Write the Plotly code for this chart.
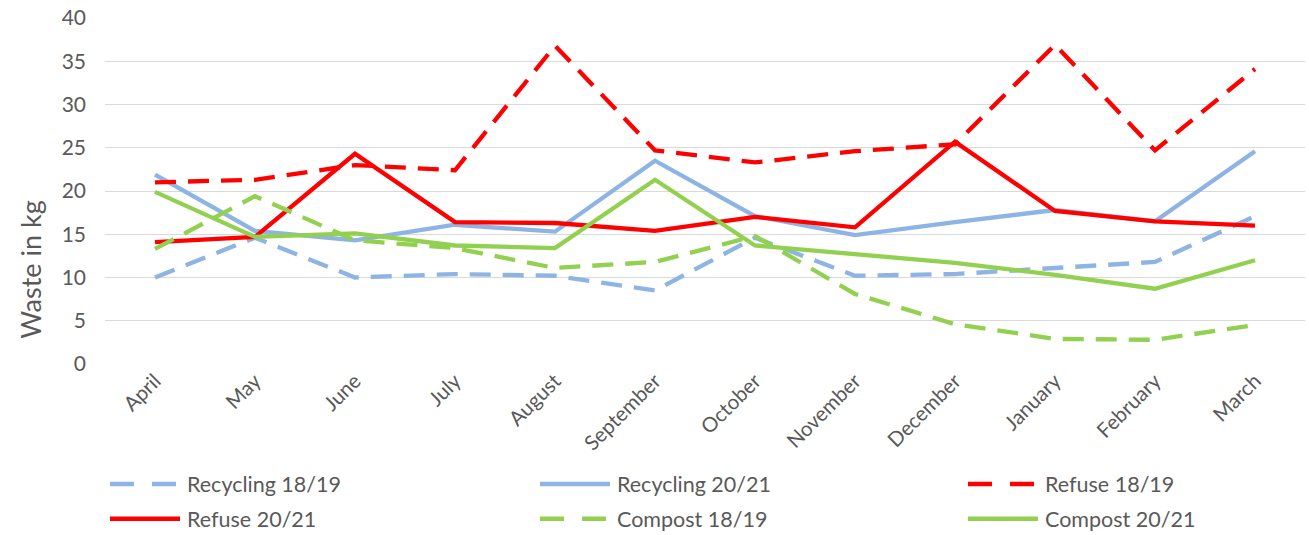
import plotly.graph_objects as go

months = ["April", "May", "June", "July", "August", "September", "October",
          "November", "December", "January", "February", "March"]

recycling_1819 = [10.0, 14.6, 10.0, 10.4, 10.2, 8.5, 14.6, 10.2, 10.4, 11.1, 11.8, 17.1]
recycling_2021 = [21.9, 15.4, 14.3, 16.1, 15.3, 23.5, 17.1, 14.9, 16.4, 17.8, 16.5, 24.6]
refuse_1819 = [21.0, 21.3, 23.0, 22.4, 36.8, 24.7, 23.3, 24.6, 25.4, 36.9, 24.7, 34.1]
refuse_2021 = [14.1, 14.7, 24.3, 16.4, 16.3, 15.4, 17.0, 15.8, 25.7, 17.7, 16.5, 16.0]
compost_1819 = [13.3, 19.4, 14.3, 13.4, 11.1, 11.8, 14.8, 8.1, 4.6, 2.9, 2.8, 4.5]
compost_2021 = [19.9, 14.7, 15.1, 13.7, 13.4, 21.3, 13.7, 12.7, 11.7, 10.3, 8.7, 12.0]

series_names = ["Recycling 18/19", "Recycling 20/21", "Refuse 18/19",
                "Refuse 20/21", "Compost 18/19", "Compost 20/21"]
series_values = [recycling_1819, recycling_2021, refuse_1819,
                 refuse_2021, compost_1819, compost_2021]

BLUE = "#8EB4E3"
RED = "#FF0000"
GREEN = "#92D050"
colors = [BLUE, BLUE, RED, RED, GREEN, GREEN]
DASH = "21px,12px"
dashes = [DASH, "solid", DASH, "solid", DASH, "solid"]

TEXT = "#595959"
FONT = "Lato"

fig = go.Figure()
for name, vals, c, d in zip(series_names, series_values, colors, dashes):
    fig.add_trace(go.Scatter(
        x=months, y=vals, name=name, mode="lines",
        line=dict(color=c, width=4.3, dash=d),
        showlegend=False,
    ))

W, H = 1309, 535
ML, MR, MT, MB = 105, 4, 15, 171
pw = W - ML - MR
ph = H - MT - MB

def px_x(x):
    return (x - ML) / pw

def px_y(y):
    return (H - MB - y) / ph

# manual legend (3 columns x 2 rows), mimicking the long legend swatches
col_x = [110, 540, 968]
row_y = [485, 520]
shapes = []
annotations = []
for i, (name, c, d) in enumerate(zip(series_names, colors, dashes)):
    cx = col_x[i % 3]
    ry = row_y[i // 3]
    shapes.append(dict(
        type="line", xref="paper", yref="paper",
        x0=px_x(cx), x1=px_x(cx + 70), y0=px_y(ry), y1=px_y(ry),
        line=dict(color=c, width=4.5, dash=("24px,18px" if d != "solid" else "solid")),
    ))
    annotations.append(dict(
        xref="paper", yref="paper", x=px_x(cx + 75), y=px_y(ry),
        xanchor="left", yanchor="middle", showarrow=False,
        text=name, font=dict(family=FONT, size=21.5, color=TEXT),
    ))

# y-axis title (positioned as in the reference, below the plot-area centre)
annotations.append(dict(
    xref="paper", yref="paper", x=px_x(31), y=px_y(269),
    xanchor="center", yanchor="middle", showarrow=False, textangle=-90,
    text="Waste in kg", font=dict(family=FONT, size=27, color=TEXT),
))

fig.update_layout(
    width=W, height=H,
    margin=dict(l=ML, r=MR, t=MT, b=MB),
    paper_bgcolor="white", plot_bgcolor="white",
    font=dict(family=FONT, color=TEXT),
    showlegend=False,
    shapes=shapes,
    annotations=annotations,
    xaxis=dict(
        type="category", range=[-0.5, 11.5],
        tickangle=-45, tickfont=dict(family=FONT, size=20.5, color=TEXT),
        showgrid=False, showline=False, zeroline=False, ticks="",
    ),
    yaxis=dict(
        range=[0, 40], dtick=5, tick0=0,
        tickfont=dict(family=FONT, size=21, color=TEXT),
        showgrid=True, gridcolor="#D9D9D9", gridwidth=1.3,
        zeroline=False, showline=False, ticks="",
        ticklabelstandoff=18,
    ),
)

fig.write_html("out.html")
